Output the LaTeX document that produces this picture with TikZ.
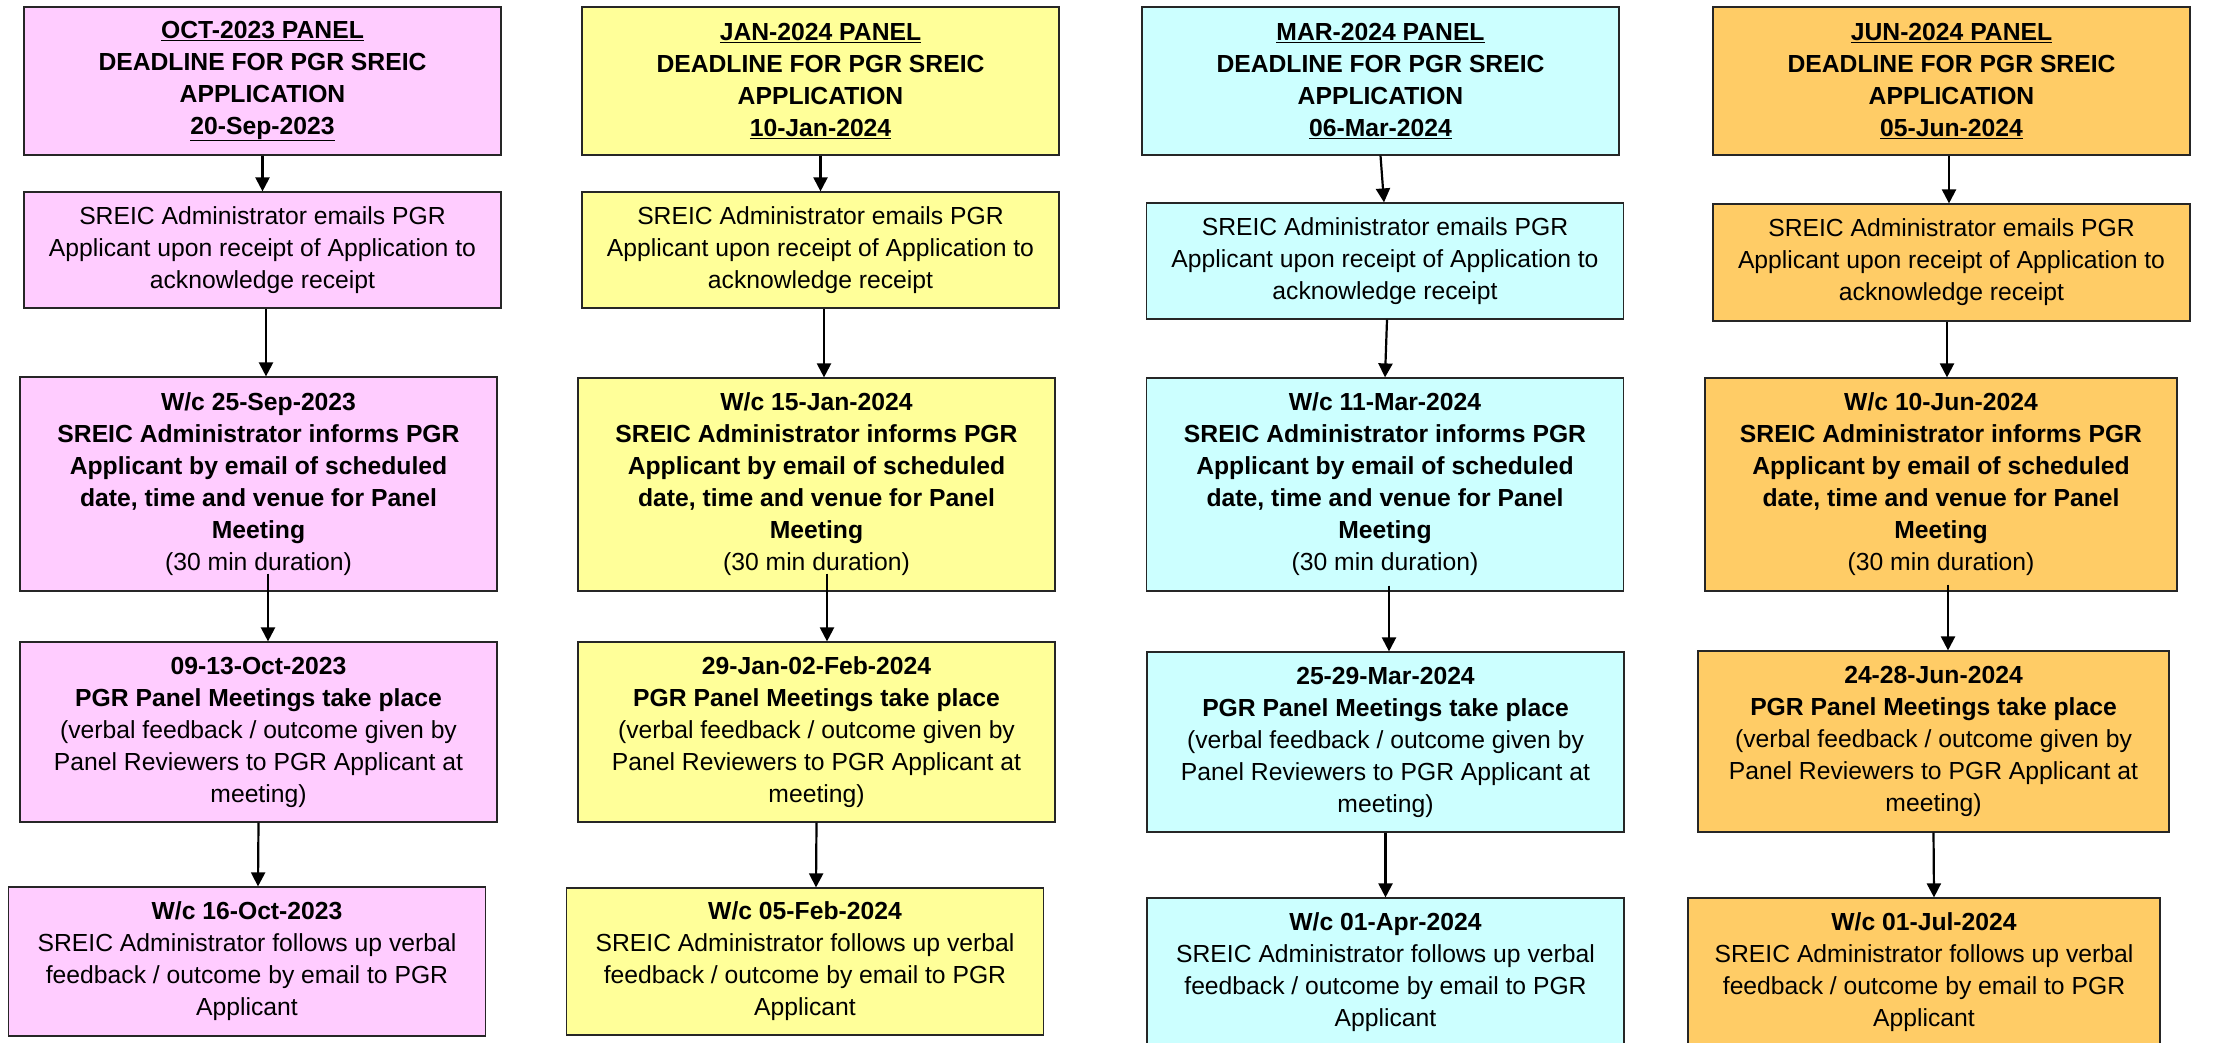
\documentclass[tikz,border=0pt]{standalone}
\usepackage{fontspec}
\setmainfont{Liberation Sans}
\usepackage{xcolor}
\usepackage{tikz}
\usetikzlibrary{arrows.meta}
\definecolor{pinkfill}{HTML}{FFCCFF}
\definecolor{yellowfill}{HTML}{FFFF99}
\definecolor{cyanfill}{HTML}{CCFFFF}
\definecolor{orangefill}{HTML}{FFCC66}
\newcommand{\deadline}[2]{\underline{\textbf{#1 PANEL}}\\\textbf{DEADLINE FOR PGR SREIC}\\\textbf{APPLICATION}\\\underline{\textbf{#2}}}
\newcommand{\ackbody}{SREIC Administrator emails PGR\\Applicant upon receipt of Application to\\acknowledge receipt}
\newcommand{\infobody}[1]{\textbf{W/c #1}\\\textbf{SREIC Administrator informs PGR}\\\textbf{Applicant by email of scheduled}\\\textbf{date, time and venue for Panel}\\\textbf{Meeting}\\(30 min duration)}
\newcommand{\meetbody}[1]{\textbf{#1}\\\textbf{PGR Panel Meetings take place}\\(verbal feedback / outcome given by\\Panel Reviewers to PGR Applicant at\\meeting)}
\newcommand{\followbody}[1]{\textbf{W/c #1}\\SREIC Administrator follows up verbal\\feedback / outcome by email to PGR\\Applicant}

\begin{document}
\begin{tikzpicture}[x=1pt,y=-1pt,
  box/.style={draw=black!85,line width=1.2pt,align=center,inner sep=0pt,
    minimum width=477pt,font=\fontsize{24.7}{32}\selectfont},
  flow/.style={line width=2.2pt,-{Triangle[width=14pt,length=14pt]}}]
\useasboundingbox[fill=white] (0,0) rectangle (2226,1042);
% OCT-2023 column
\node[box,fill=pinkfill,minimum height=148pt] (a1) at (262.5,81) {\deadline{OCT-2023}{20-Sep-2023}};
\node[box,fill=pinkfill,minimum height=116pt] (a2) at (262.5,250) {\ackbody};
\node[box,fill=pinkfill,minimum height=214pt] (a3) at (258.5,484) {\infobody{25-Sep-2023}};
\node[box,fill=pinkfill,minimum height=180pt] (a4) at (258.5,732) {\meetbody{09-13-Oct-2023}};
\node[box,fill=pinkfill,minimum height=149pt] (a5) at (247,961.5) {\followbody{16-Oct-2023}};
% JAN-2024 column
\node[box,fill=yellowfill,minimum height=148pt] (b1) at (820.5,81) {\deadline{JAN-2024}{10-Jan-2024}};
\node[box,fill=yellowfill,minimum height=116pt] (b2) at (820.5,250) {\ackbody};
\node[box,fill=yellowfill,minimum height=213pt] (b3) at (816.5,484.5) {\infobody{15-Jan-2024}};
\node[box,fill=yellowfill,minimum height=180pt] (b4) at (816.5,732) {\meetbody{29-Jan-02-Feb-2024}};
\node[box,fill=yellowfill,minimum height=147pt] (b5) at (805,961.5) {\followbody{05-Feb-2024}};
% MAR-2024 column
\node[box,fill=cyanfill,minimum height=148pt] (c1) at (1380.5,81) {\deadline{MAR-2024}{06-Mar-2024}};
\node[box,fill=cyanfill,minimum height=116pt] (c2) at (1385,261) {\ackbody};
\node[box,fill=cyanfill,minimum height=213pt] (c3) at (1385,484.5) {\infobody{11-Mar-2024}};
\node[box,fill=cyanfill,minimum height=180pt] (c4) at (1385.5,742) {\meetbody{25-29-Mar-2024}};
\node[box,fill=cyanfill,minimum height=148pt] (c5) at (1385.5,972) {\followbody{01-Apr-2024}};
% JUN-2024 column
\node[box,fill=orangefill,minimum height=148pt] (d1) at (1951.5,81) {\deadline{JUN-2024}{05-Jun-2024}};
\node[box,fill=orangefill,minimum height=117pt] (d2) at (1951.5,262.5) {\ackbody};
\node[box,fill=orangefill,minimum height=213pt,minimum width=472pt] (d3) at (1941,484.5) {\infobody{10-Jun-2024}};
\node[box,fill=orangefill,minimum height=181pt,minimum width=471pt] (d4) at (1933.5,741.5) {\meetbody{24-28-Jun-2024}};
\node[box,fill=orangefill,minimum height=148pt,minimum width=472pt] (d5) at (1924,972) {\followbody{01-Jul-2024}};
% arrows
\draw[flow] (a1.south) -- (a2.north);
\draw[flow] ([xshift=3.5pt]a2.south) -- ([xshift=7.5pt]a3.north);
\draw[flow] ([xshift=9.5pt,yshift=18pt]a3.south) -- ([xshift=9.5pt]a4.north);
\draw[flow] (a4.south) -- ([xshift=11pt]a5.north);
\draw[flow] (b1.south) -- (b2.north);
\draw[flow] ([xshift=3.5pt]b2.south) -- ([xshift=7.5pt]b3.north);
\draw[flow] ([xshift=10.5pt,yshift=18pt]b3.south) -- ([xshift=10.5pt]b4.north);
\draw[flow] (b4.south) -- ([xshift=11pt]b5.north);
\draw[flow] (c1.south) -- ([xshift=-1pt]c2.north);
\draw[flow] ([xshift=2pt]c2.south) -- (c3.north);
\draw[flow] ([xshift=4pt,yshift=6pt]c3.south) -- ([xshift=3.5pt]c4.north);
\draw[flow] (c4.south) -- (c5.north);
\draw[flow] ([xshift=-2.5pt]d1.south) -- ([xshift=-2.5pt]d2.north);
\draw[flow] ([xshift=-4.5pt]d2.south) -- ([xshift=6pt]d3.north);
\draw[flow] ([xshift=7pt,yshift=7pt]d3.south) -- ([xshift=14.5pt]d4.north);
\draw[flow] (d4.south) -- ([xshift=10pt]d5.north);
\end{tikzpicture}
\end{document}
